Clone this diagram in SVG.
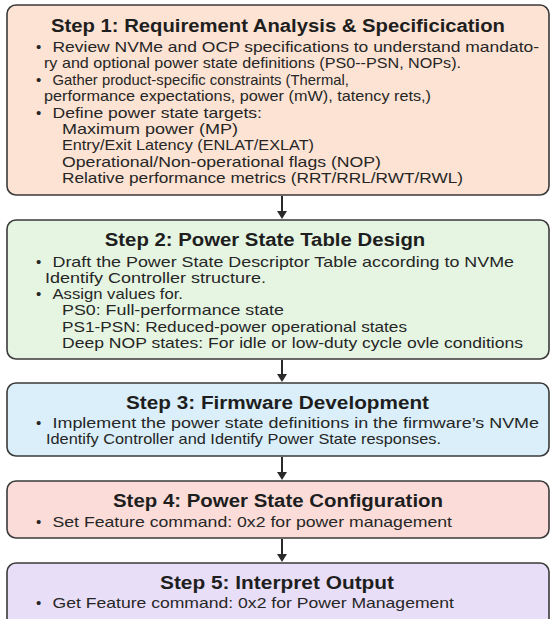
<svg xmlns="http://www.w3.org/2000/svg" width="551" height="619" viewBox="0 0 551 619">
<defs>
<style>
.box{stroke:#3a3a3a;stroke-width:1.6}
.t{font-family:"Liberation Sans",Arial,sans-serif;font-weight:bold;font-size:18px;fill:#1e1e1e;text-anchor:middle}
.b{font-family:"Liberation Sans",Arial,sans-serif;font-size:15px;fill:#262626}
.c{stroke:#2a2a2a;stroke-width:2;fill:none}
.h{fill:#2a2a2a}
</style>
</defs>
<rect width="551" height="619" fill="#ffffff"/>
<g id="step1">
<rect class="box" x="7" y="5" width="542" height="190" rx="9" fill="#fce3d3"/>
<text class="t" x="278" y="31.5" textLength="454" lengthAdjust="spacingAndGlyphs">Step 1: Requirement Analysis &amp; Specificication</text>
<text class="b" x="36" y="52">•</text>
<text class="b" x="52.5" y="52" textLength="486.5" lengthAdjust="spacingAndGlyphs">Review NVMe and OCP specifications to understand mandato-</text>
<text class="b" x="44" y="68.4" textLength="417" lengthAdjust="spacingAndGlyphs">ry and optional power state definitions (PS0--PSN, NOPs).</text>
<text class="b" x="36" y="84.8">•</text>
<text class="b" x="52.5" y="84.8" textLength="296.5" lengthAdjust="spacingAndGlyphs">Gather product-specific constraints (Thermal,</text>
<text class="b" x="44" y="101.2" textLength="387" lengthAdjust="spacingAndGlyphs">performance expectations, power (mW), tatency rets,)</text>
<text class="b" x="36" y="117.6">•</text>
<text class="b" x="52.5" y="117.6" textLength="209.5" lengthAdjust="spacingAndGlyphs">Define power state targets:</text>
<text class="b" x="62" y="134" textLength="176" lengthAdjust="spacingAndGlyphs">Maximum power (MP)</text>
<text class="b" x="62" y="150.4" textLength="252" lengthAdjust="spacingAndGlyphs">Entry/Exit Latency (ENLAT/EXLAT)</text>
<text class="b" x="62" y="166.8" textLength="319" lengthAdjust="spacingAndGlyphs">Operational/Non-operational flags (NOP)</text>
<text class="b" x="62" y="183.2" textLength="401" lengthAdjust="spacingAndGlyphs">Relative performance metrics (RRT/RRL/RWT/RWL)</text>
</g>
<g id="step2">
<rect class="box" x="7" y="220" width="542" height="139" rx="9" fill="#e5f5e2"/>
<text class="t" x="265" y="245.5" textLength="320.5" lengthAdjust="spacingAndGlyphs">Step 2: Power State Table Design</text>
<text class="b" x="36" y="267">•</text>
<text class="b" x="52.5" y="267" textLength="461.5" lengthAdjust="spacingAndGlyphs">Draft the Power State Descriptor Table according  to NVMe</text>
<text class="b" x="45" y="282.5" textLength="221" lengthAdjust="spacingAndGlyphs">Identify Controller structure.</text>
<text class="b" x="36" y="298.5">•</text>
<text class="b" x="52.5" y="298.5" textLength="130.5" lengthAdjust="spacingAndGlyphs">Assign values for.</text>
<text class="b" x="62" y="315" textLength="222" lengthAdjust="spacingAndGlyphs">PS0: Full-performance state</text>
<text class="b" x="62" y="331.5" textLength="345" lengthAdjust="spacingAndGlyphs">PS1-PSN: Reduced-power operational states</text>
<text class="b" x="62" y="348" textLength="461" lengthAdjust="spacingAndGlyphs">Deep NOP states: For idle or low-duty cycle ovle conditions</text>
</g>
<g id="step3">
<rect class="box" x="7" y="383" width="542" height="73" rx="9" fill="#daeff9"/>
<text class="t" x="277.5" y="408.5" textLength="303" lengthAdjust="spacingAndGlyphs">Step 3: Firmware Development</text>
<text class="b" x="36" y="427.5">•</text>
<text class="b" x="52.5" y="427.5" textLength="486.5" lengthAdjust="spacingAndGlyphs">Implement the power state definitions in the firmware’s NVMe</text>
<text class="b" x="46" y="444" textLength="395" lengthAdjust="spacingAndGlyphs">Identify Controller and Identify Power State responses.</text>
</g>
<g id="step4">
<rect class="box" x="7" y="481" width="542" height="57" rx="9" fill="#fbdcd8"/>
<text class="t" x="278" y="506.5" textLength="330" lengthAdjust="spacingAndGlyphs">Step 4: Power State Configuration</text>
<text class="b" x="36" y="527">•</text>
<text class="b" x="52.5" y="527" textLength="399.5" lengthAdjust="spacingAndGlyphs">Set Feature command: 0x2 for power management</text>
</g>
<g id="step5">
<rect class="box" x="7" y="563" width="542" height="80" rx="9" fill="#e9def7"/>
<text class="t" x="277" y="588.5" textLength="234" lengthAdjust="spacingAndGlyphs">Step 5: Interpret Output</text>
<text class="b" x="36" y="608">•</text>
<text class="b" x="52.5" y="608" textLength="401.5" lengthAdjust="spacingAndGlyphs">Get Feature command: 0x2 for Power Management</text>
</g>
<g id="connectors">
<line class="c" x1="282" y1="196" x2="282" y2="212"/>
<polygon class="h" points="277,211 287,211 282,219"/>
<line class="c" x1="282" y1="360" x2="282" y2="375"/>
<polygon class="h" points="277,374 287,374 282,382"/>
<line class="c" x1="282" y1="457" x2="282" y2="473"/>
<polygon class="h" points="277,472 287,472 282,480"/>
<line class="c" x1="282" y1="539" x2="282" y2="555"/>
<polygon class="h" points="277,554 287,554 282,562"/>
</g>
</svg>
